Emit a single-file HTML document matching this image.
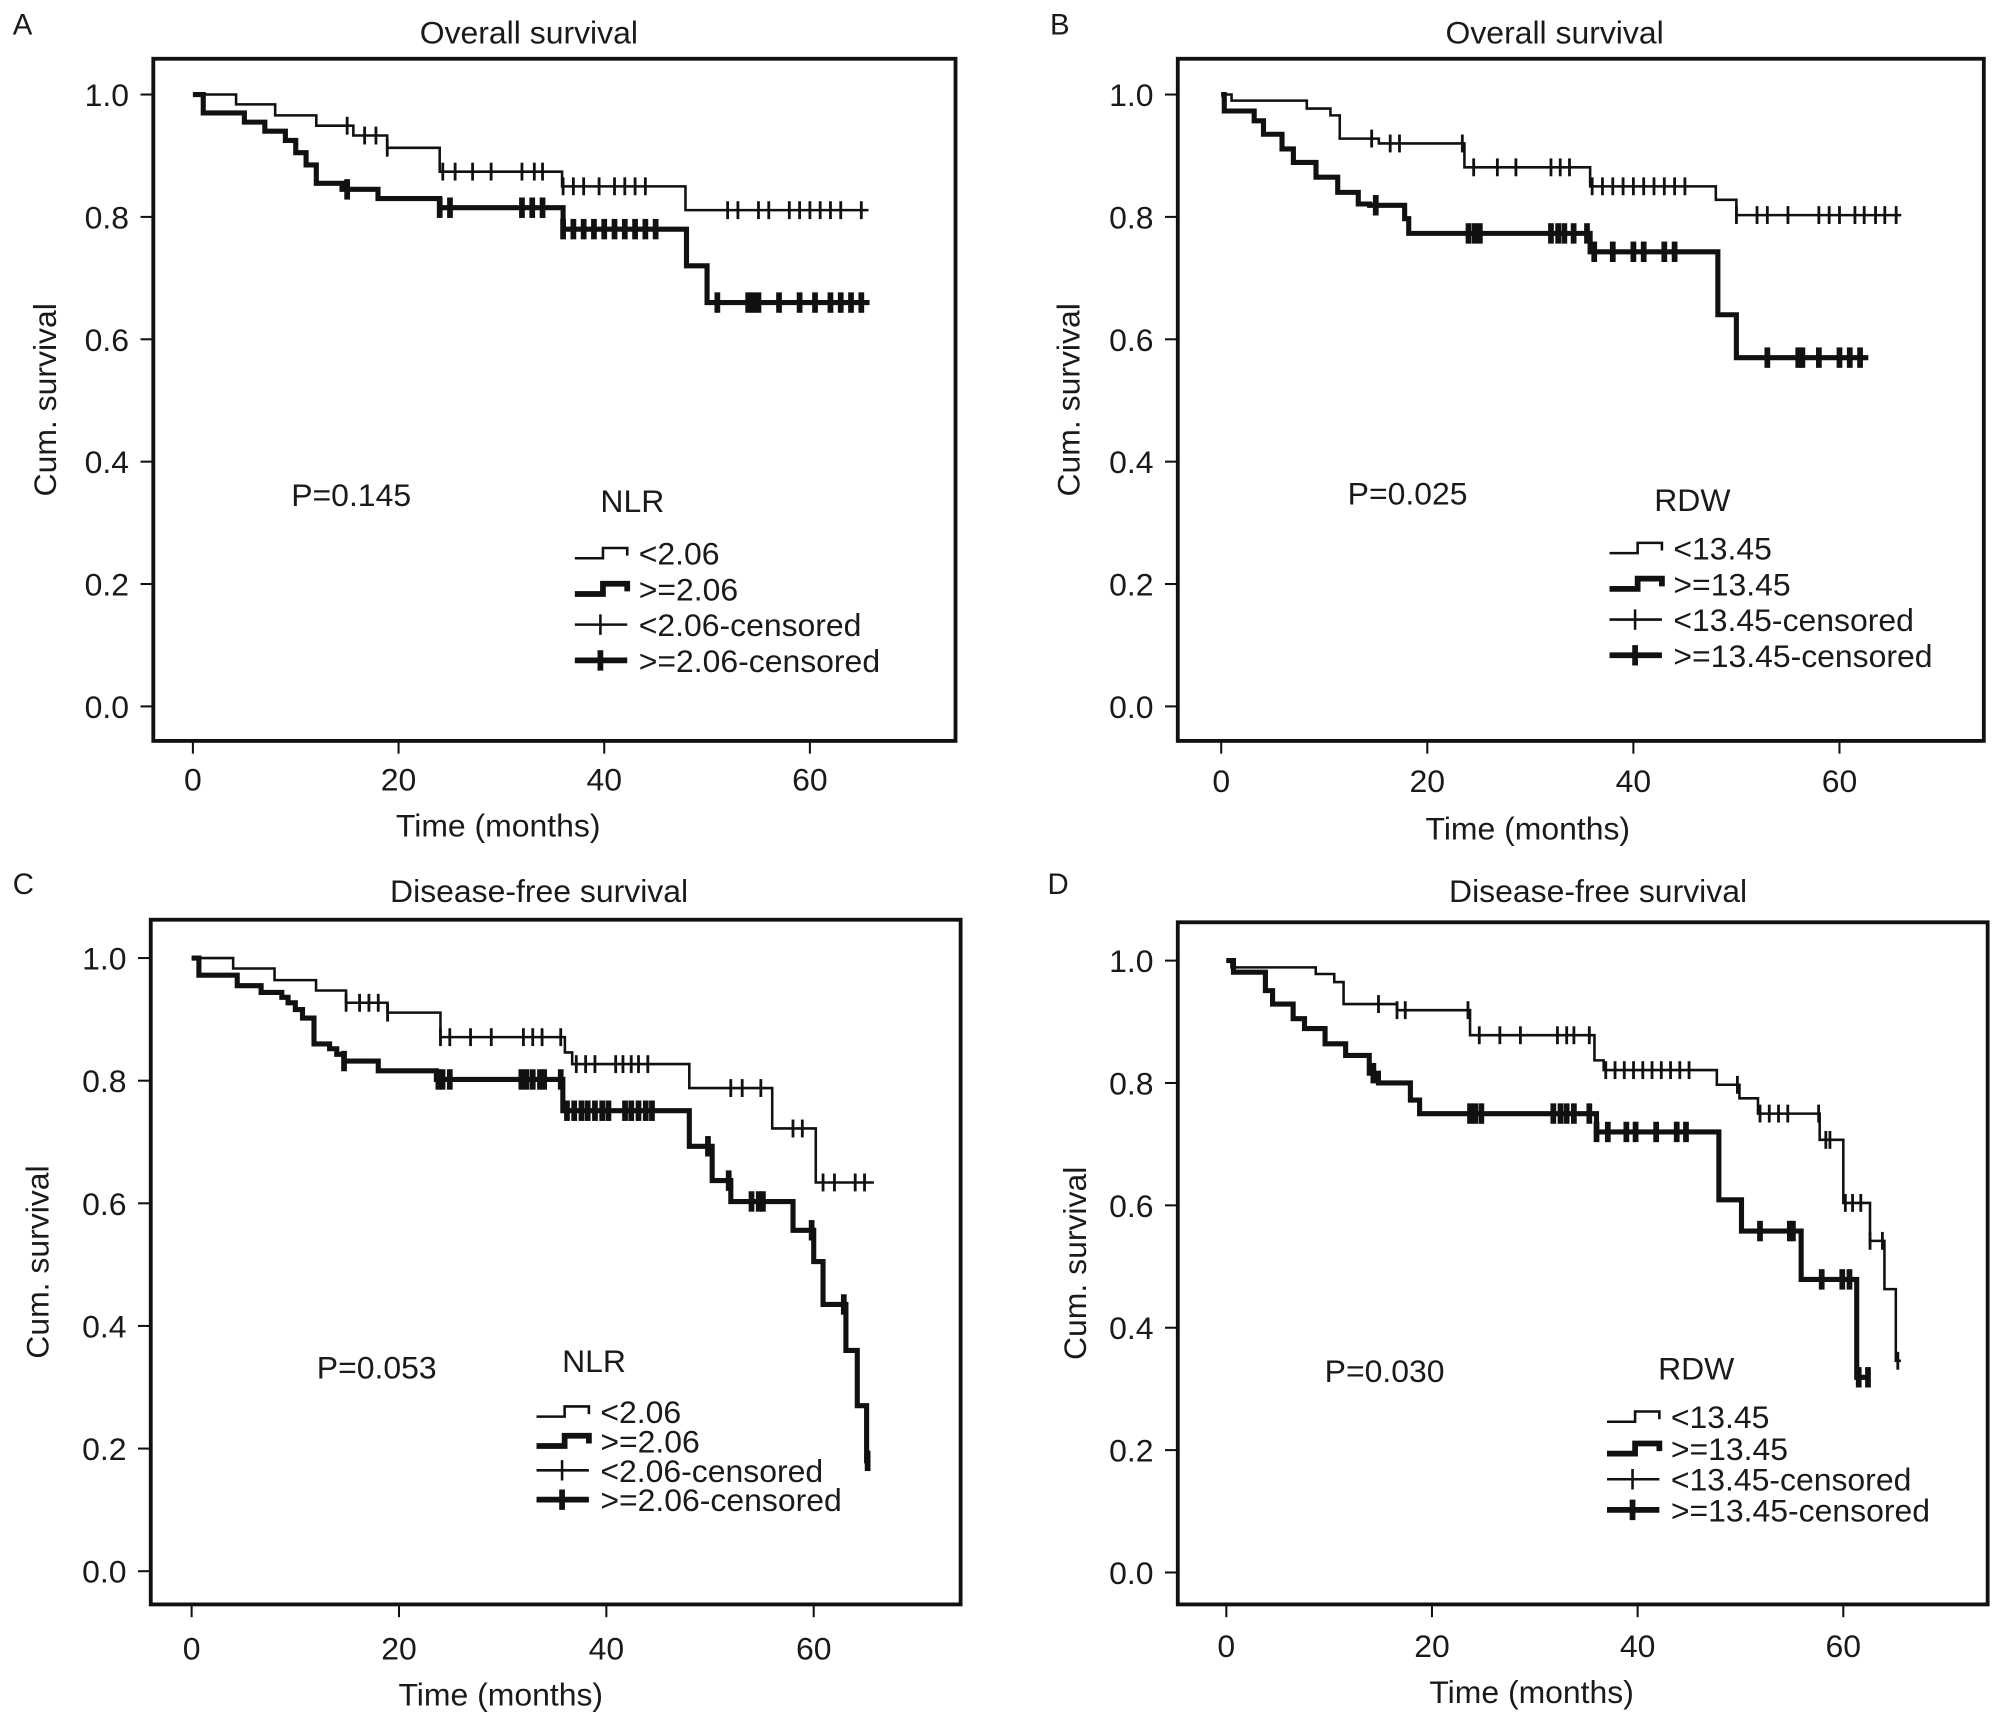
<!DOCTYPE html>
<html><head><meta charset="utf-8"><style>
html,body{margin:0;padding:0;background:#fff;}
svg{display:block;}
text{font-family:"Liberation Sans",sans-serif;fill:#1a1a1a;}
</style></head><body>
<svg id="fig" width="2003" height="1725" viewBox="0 0 1568 1350.4"></svg>
<script>
// ---------- DATA ----------
const aThinT=[0,4.2,8,12,15.6,18.9,24,35.9,47.9,65.7];
const aThinS=[1.0,0.984,0.966,0.949,0.933,0.913,0.874,0.85,0.811,0.811];
const aThinC=[15,16.7,17.8,18.9,24.3,25.5,27.2,29,32,33.2,34,36,37,38,39.5,41,42,43,44,52,53,55,56,58,59,60,61,62,63,65];
const aThickT=[0,1,5,7,9,10,11,12,14.5,18,24,36,48,50,65.8];
const aThickS=[1.0,0.97,0.955,0.94,0.925,0.905,0.885,0.855,0.845,0.83,0.815,0.78,0.72,0.66,0.66];
const aThickC=[15,24,25,32,33,34,36,37,38,39,40,41,42,43,44,45,51,54,54.5,55,57,59,60.5,62,63,64,65];
const bThinT=[0,1,8.3,10.6,11.5,15.3,23.6,35.8,48,50,66];
const bThinS=[1.0,0.99,0.977,0.966,0.928,0.92,0.881,0.85,0.828,0.803,0.803];
const bThinC=[14.6,16.4,17.3,23.4,24.5,26.8,28.6,32,32.9,33.8,36,37,38,39,40,41,42,43,44,45,50,52,53,55,58,59,60,61.5,62.4,63.5,64.4,65.5];
const bThickT=[0,0.3,3.2,4.1,5.9,7,9.2,11.3,13.3,14.4,17.8,18.2,35.8,48.2,50,62.8];
const bThickS=[1.0,0.973,0.957,0.935,0.911,0.889,0.865,0.84,0.821,0.819,0.797,0.773,0.743,0.64,0.57,0.57];
const bThickC=[15,24,24.6,25.1,32,32.7,33.3,34.2,35.5,36.2,38,40,41,43,44,53,56,56.4,58,60,61,62];
const cThinT=[0,4,8,12,14.9,18.9,24,36,36.7,48,56,60.2,65.8];
const cThinS=[1.0,0.983,0.964,0.947,0.927,0.911,0.871,0.846,0.827,0.788,0.722,0.634,0.634];
const cThinC=[14.9,16.2,17.1,18,18.9,24,24.9,26.9,28.9,32,32.9,33.8,35.6,37.1,38,38.9,40.9,41.6,42.4,43.1,44,52,53.1,54.9,58,58.9,60.9,62,64,64.9];
const cThickT=[0,0.7,4.4,6.7,8.7,9.3,10,10.7,11.8,13.3,14,14.7,18,23.6,35.8,48,50.2,52,58,60,60.9,63.1,64.2,65.1,65.3];
const cThickS=[1.0,0.972,0.955,0.944,0.936,0.927,0.916,0.902,0.86,0.852,0.843,0.832,0.816,0.802,0.751,0.693,0.637,0.603,0.556,0.505,0.435,0.36,0.27,0.18,0.18];
const cThickC=[14.7,23.8,24.2,24.9,31.8,32.3,32.9,33.6,34,35.6,36.2,36.9,37.6,38.2,38.9,39.6,40.2,41.8,42.4,43.1,43.8,44.4,49.8,51.8,54,54.7,55.1,59.8,62.9,65.2];
const dThinT=[0,0.5,8.7,10.5,11.4,16.6,23.7,35.8,36.7,47.7,49.9,51.7,57.7,60,62.6,64,65.1,65.6];
const dThinS=[1.0,0.989,0.978,0.965,0.929,0.919,0.878,0.837,0.821,0.797,0.775,0.75,0.707,0.604,0.542,0.463,0.346,0.346];
const dThinC=[14.8,16.6,17.4,23.5,24.6,26.6,28.6,32.2,33.1,33.8,35.3,36.9,37.8,38.7,39.6,40.5,41.4,42.3,43.2,44.1,45,49.7,51.9,52.8,53.7,54.6,57.6,58.3,58.7,60.2,60.9,61.7,62.6,63.8,65.3];
const dThickT=[0,0.7,3.8,4.5,6.5,7.6,9.6,11.6,13.9,14.8,17.9,18.8,36,47.9,50.1,55.9,61.3,62.4];
const dThickS=[1.0,0.981,0.951,0.929,0.905,0.889,0.864,0.845,0.816,0.8,0.772,0.75,0.72,0.609,0.558,0.479,0.319,0.319];
const dThickC=[14.3,23.7,24.2,24.8,31.8,32.5,33.1,33.8,35.3,36,37.1,38.9,39.8,41.8,43.8,44.7,51.9,54.8,55.1,57.9,59.9,60.6,61.5,62.4];
const xTicks=[0,20,40,60];
const yTicks=[0,0.2,0.4,0.6,0.8,1.0];
const yTickLabels=["0.0","0.2","0.4","0.6","0.8","1.0"];

const NS="http://www.w3.org/2000/svg";
const svg=document.getElementById('fig');
function mk(tag,attrs,parent){const e=document.createElementNS(NS,tag);for(const k in attrs)e.setAttribute(k,attrs[k]);(parent||svg).appendChild(e);return e;}
function txt(s,x,y,size,anchor,parent){const t=mk('text',{x:x,y:y,'font-size':size,'text-anchor':anchor||'start'},parent);t.textContent=s;return t;}

const panels=[
 {id:'a',letter:'A',title:'Overall survival',box:[120,46,748,580],x0:151,x60:634,y1:74,y0:553,titleX:414,titleY:34,letterX:10,letterY:27,
  p:'P=0.145',pX:228,pY:396,grp:'NLR',grpX:470,grpY:401,legX:450,legY:[433,461,489,517],labels:['<2.06','>=2.06','<2.06-censored','>=2.06-censored'],
  xlabY:619,xtitleX:390,xtitleY:655,ytitleX:44,
  thinT:aThinT,thinS:aThinS,thinC:aThinC,thickT:aThickT,thickS:aThickS,thickC:aThickC},
 {id:'b',letter:'B',title:'Overall survival',box:[922,46,1553,580],x0:956,x60:1440,y1:74,y0:553,titleX:1217,titleY:34,letterX:822,letterY:27,
  p:'P=0.025',pX:1055,pY:395,grp:'RDW',grpX:1295,grpY:400,legX:1260,legY:[429,457,485,513],labels:['<13.45','>=13.45','<13.45-censored','>=13.45-censored'],
  xlabY:620,xtitleX:1196,xtitleY:657,ytitleX:845,
  thinT:bThinT,thinS:bThinS,thinC:bThinC,thickT:bThickT,thickS:bThickS,thickC:bThickC},
 {id:'c',letter:'C',title:'Disease-free survival',box:[118,720,752,1256],x0:150,x60:637,y1:750,y0:1230,titleX:422,titleY:706,letterX:10,letterY:700,
  p:'P=0.053',pX:248,pY:1079,grp:'NLR',grpX:440,grpY:1074,legX:420,legY:[1105,1128,1151,1174],labels:['<2.06','>=2.06','<2.06-censored','>=2.06-censored'],
  xlabY:1299,xtitleX:392,xtitleY:1335,ytitleX:38,
  thinT:cThinT,thinS:cThinS,thinC:cThinC,thickT:cThickT,thickS:cThickS,thickC:cThickC},
 {id:'d',letter:'D',title:'Disease-free survival',box:[922,722,1556,1256],x0:960,x60:1443,y1:752,y0:1231,titleX:1251,titleY:706,letterX:820,letterY:700,
  p:'P=0.030',pX:1037,pY:1082,grp:'RDW',grpX:1298,grpY:1080,legX:1258,legY:[1109,1134,1158,1182],labels:['<13.45','>=13.45','<13.45-censored','>=13.45-censored'],
  xlabY:1297,xtitleX:1199,xtitleY:1333,ytitleX:850,
  thinT:dThinT,thinS:dThinS,thinC:dThinC,thickT:dThickT,thickS:dThickS,thickC:dThickC}
];

function stepPath(T,S,xs,ys){
  let d='M'+xs(T[0]).toFixed(1)+','+ys(S[0]).toFixed(1);
  for(let i=1;i<T.length;i++){d+=' H'+xs(T[i]).toFixed(1)+' V'+ys(S[i]).toFixed(1);}
  return d;
}
function survAt(T,S,t){let s=S[0];for(let i=0;i<T.length;i++){if(T[i]<=t)s=S[i];}return s;}

panels.forEach(P=>{
  const g=mk('g',{});
  
  
  const xs=t=>P.x0+(P.x60-P.x0)*t/60;
  const ys=s=>P.y0-(P.y0-P.y1)*s;
  const [bx1,by1,bx2,by2]=P.box;
  const lt=txt(P.letter,P.letterX,P.letterY,23,'start',g);
   
  const tt=txt(P.title,P.titleX,P.titleY,25,'middle',g);
   
  const box=mk('rect',{x:bx1,y:by1,width:bx2-bx1,height:by2-by1,fill:'none',stroke:'#111','stroke-width':3},g);
   
  yTicks.forEach((v,i)=>{
    const tk=mk('line',{x1:bx1-10,x2:bx1,y1:ys(v),y2:ys(v),stroke:'#111','stroke-width':1.6},g);
     
    const tl=txt(yTickLabels[i],bx1-19,ys(v)+9,25,'end',g);
     
  });
  xTicks.forEach(v=>{
    const tk=mk('line',{x1:xs(v),x2:xs(v),y1:by2,y2:by2+10,stroke:'#111','stroke-width':1.6},g);
     
    const tl=txt(String(v),xs(v),P.xlabY,25,'middle',g);
     
  });
  const xt=txt('Time (months)',P.xtitleX,P.xtitleY,25,'middle',g);
   
  const cy=(by1+by2)/2;
  const yt=txt('Cum. survival',P.ytitleX,cy,25,'middle',g);
  yt.setAttribute('transform','rotate(-90 '+P.ytitleX+' '+cy+')');
   
  const pt=txt(P.p,P.pX,P.pY,25,'start',g);
   
  const gt=txt(P.grp,P.grpX,P.grpY,25,'start',g);
   

  const thin=mk('path',{d:stepPath(P.thinT,P.thinS,xs,ys),fill:'none',stroke:'#111','stroke-width':2},g);
   
  const thick=mk('path',{d:stepPath(P.thickT,P.thickS,xs,ys),fill:'none',stroke:'#111','stroke-width':4},g);
   
  P.thinC.forEach(t=>{
    const y=ys(survAt(P.thinT,P.thinS,t));
    const m=mk('line',{x1:xs(t),x2:xs(t),y1:y-7,y2:y+7,stroke:'#111','stroke-width':2.2},g);
     
  });
  P.thickC.forEach(t=>{
    const y=ys(survAt(P.thickT,P.thickS,t));
    const m=mk('line',{x1:xs(t),x2:xs(t),y1:y-8,y2:y+8,stroke:'#111','stroke-width':4.5},g);
     
  });

  const lx=P.legX;
  P.labels.forEach((lab,i)=>{
    const y=P.legY[i];
    const sw=(i%2===0)?2:4.5;
    let sym;
    if(i<2){
      sym=mk('path',{d:'M'+lx+','+(y+4)+' H'+(lx+22)+' V'+(y-4)+' H'+(lx+41)+' V'+(y+2),fill:'none',stroke:'#111','stroke-width':sw},g);
    } else {
      sym=mk('path',{d:'M'+lx+','+y+' H'+(lx+41)+' M'+(lx+20)+','+(y-8)+' V'+(y+8),fill:'none',stroke:'#111','stroke-width':sw},g);
    }
     
    const lt2=txt(lab,lx+50,y+9,25,'start',g);
     
  });
});
</script>
</body></html>
